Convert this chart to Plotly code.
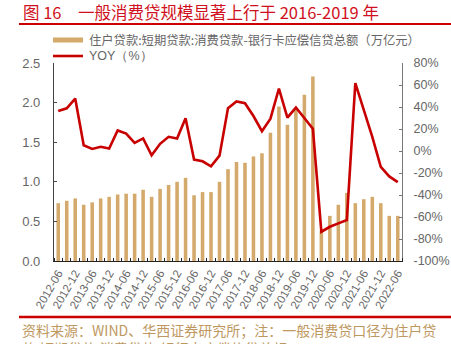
import plotly.graph_objects as go

# Quarterly observations, 2012-06 .. 2022-06
quarters = [
    "2012-06", "2012-09", "2012-12", "2013-03", "2013-06", "2013-09", "2013-12", "2014-03",
    "2014-06", "2014-09", "2014-12", "2015-03", "2015-06", "2015-09", "2015-12", "2016-03",
    "2016-06", "2016-09", "2016-12", "2017-03", "2017-06", "2017-09", "2017-12", "2018-03",
    "2018-06", "2018-09", "2018-12", "2019-03", "2019-06", "2019-09", "2019-12", "2020-03",
    "2020-06", "2020-09", "2020-12", "2021-03", "2021-06", "2021-09", "2021-12", "2022-03",
    "2022-06",
]

# General consumer loans (trillion yuan)
loan_balance = [
    0.73, 0.76, 0.79, 0.71, 0.74, 0.79, 0.81, 0.84,
    0.85, 0.85, 0.90, 0.81, 0.91, 0.96, 1.00, 1.05,
    0.83, 0.87, 0.87, 1.00, 1.16, 1.25, 1.24, 1.32,
    1.36, 1.62, 1.95, 1.72, 1.91, 2.10, 2.33, 0.38,
    0.57, 0.71, 0.86, 0.73, 0.78, 0.81, 0.73, 0.57,
    0.57,
]

# Year-over-year growth (%)
yoy = [
    36.3, 38.8, 47.7, 5.2, 1.9, 3.8, 2.2, 18.7,
    15.9, 7.4, 11.4, -3.9, 6.5, 12.9, 11.4, 29.7,
    -7.8, -9.4, -14.0, -4.2, 39.0, 45.0, 43.4, 31.8,
    18.0, 29.4, 56.8, 30.3, 39.5, 30.0, 20.2, -73.4,
    -68.9, -65.8, -62.8, 61.7, 37.9, 12.9, -14.5, -23.1,
    -28.3,
]

left_ticks = [0.0, 0.5, 1.0, 1.5, 2.0, 2.5]
right_ticks = [80, 60, 40, 20, 0, -20, -40, -60, -80, -100]

title_text = "图 16　一般消费贷规模显著上行于 2016-2019 年"
bar_name = "住户贷款:短期贷款:消费贷款-银行卡应偿信贷总额（万亿元）"
line_name = "YOY（%）"
source_line1 = "资料来源：WIND、华西证券研究所；注：一般消费贷口径为住户贷"
source_line2 = "款:短期贷款:消费贷款-银行卡应偿信贷总额"

BAR_COLOR = "#D4A96C"
LINE_COLOR = "#C80000"
RED = "#CC0000"
GOLD_TEXT = "#BE9860"
GRAY = "#666666"
FONT = "Liberation Sans, Arial, sans-serif"
CJK = "Noto Sans CJK SC, sans-serif"

W, H = 451, 344
ML, MR, MT, MB = 54, 49, 63, 83
PW, PH = W - ML - MR, H - MT - MB


def px_x(px):
    return (px - ML) / PW


def px_y(py):
    return (H - MB - py) / PH


idx = list(range(len(quarters)))
label_idx = idx[::2]
label_txt = quarters[::2]

fig = go.Figure()
fig.add_trace(go.Bar(
    x=idx, y=loan_balance, name=bar_name, width=0.42,
    marker=dict(color=BAR_COLOR, line=dict(width=0)), yaxis="y",
))
fig.add_trace(go.Scatter(
    x=idx, y=yoy, name=line_name, mode="lines",
    line=dict(color=LINE_COLOR, width=2.6), yaxis="y2",
))

fig.update_layout(
    width=W, height=H,
    margin=dict(l=ML, r=MR, t=MT, b=MB, autoexpand=False),
    paper_bgcolor="white", plot_bgcolor="white",
    showlegend=False,
    font=dict(family=FONT, color=GRAY),
    xaxis=dict(
        range=[-0.5, len(quarters) - 0.5],
        tickmode="array", tickvals=label_idx, ticktext=label_txt,
        tickangle=-60, tickfont=dict(size=11.5, color=GRAY),
        ticks="", showgrid=False, zeroline=False,
        showline=True, linecolor="#222222", linewidth=1.3,
        minor=dict(ticks="inside", tick0=-0.5, dtick=1, ticklen=3,
                   tickcolor="#222222", tickwidth=1, showgrid=False),
    ),
    yaxis=dict(
        range=[0, 2.5], tickmode="array", tickvals=left_ticks,
        ticktext=[f"{v:.1f}" for v in left_ticks],
        tickfont=dict(size=13, color=GRAY),
        ticks="inside", ticklen=3, tickcolor="#444444",
        ticklabelstandoff=10,
        showgrid=False, zeroline=False,
        showline=True, linecolor="#444444", linewidth=1.2,
    ),
    yaxis2=dict(
        range=[-100, 80], overlaying="y", side="right",
        tickmode="array", tickvals=right_ticks,
        ticktext=[f"{v}%" for v in right_ticks],
        tickfont=dict(size=12.5, color=GRAY),
        ticks="inside", ticklen=3, tickcolor="#777777",
        ticklabelstandoff=8,
        showgrid=False, zeroline=False,
        showline=True, linecolor="#777777", linewidth=1,
    ),
)

shapes = [
    # rule under the title
    dict(type="line", xref="paper", yref="paper",
         x0=px_x(19), x1=px_x(451), y0=px_y(24), y1=px_y(24),
         line=dict(color=RED, width=2)),
    # rule above the source note
    dict(type="line", xref="paper", yref="paper",
         x0=px_x(19), x1=px_x(451), y0=px_y(317), y1=px_y(317),
         line=dict(color=RED, width=2.5)),
    # legend swatches
    dict(type="rect", xref="paper", yref="paper",
         x0=px_x(53), x1=px_x(83), y0=px_y(42.5), y1=px_y(37.5),
         fillcolor=BAR_COLOR, line=dict(width=0)),
    dict(type="line", xref="paper", yref="paper",
         x0=px_x(53), x1=px_x(83), y0=px_y(56), y1=px_y(56),
         line=dict(color=LINE_COLOR, width=2.6)),
]

annotations = [
    dict(text=title_text, xref="paper", yref="paper",
         x=px_x(21), y=px_y(12), xanchor="left", yanchor="middle",
         showarrow=False, font=dict(family=CJK, size=16.5, color="#D01020")),
    dict(text=bar_name, xref="paper", yref="paper",
         x=px_x(87), y=px_y(40), xanchor="left", yanchor="middle",
         showarrow=False, font=dict(family=CJK, size=12.3, color=GRAY)),
    dict(text=line_name, xref="paper", yref="paper",
         x=px_x(87), y=px_y(56), xanchor="left", yanchor="middle",
         showarrow=False, font=dict(family=FONT, size=12.5, color=GRAY)),
    dict(text=source_line1, xref="paper", yref="paper",
         x=px_x(20), y=px_y(330), xanchor="left", yanchor="middle",
         showarrow=False, font=dict(family=CJK, size=14, color=GOLD_TEXT)),
    dict(text=source_line2, xref="paper", yref="paper",
         x=px_x(20), y=px_y(348), xanchor="left", yanchor="middle",
         showarrow=False, font=dict(family=CJK, size=14, color=GOLD_TEXT)),
]

fig.update_layout(shapes=shapes, annotations=annotations)
fig.write_html("out.html")
